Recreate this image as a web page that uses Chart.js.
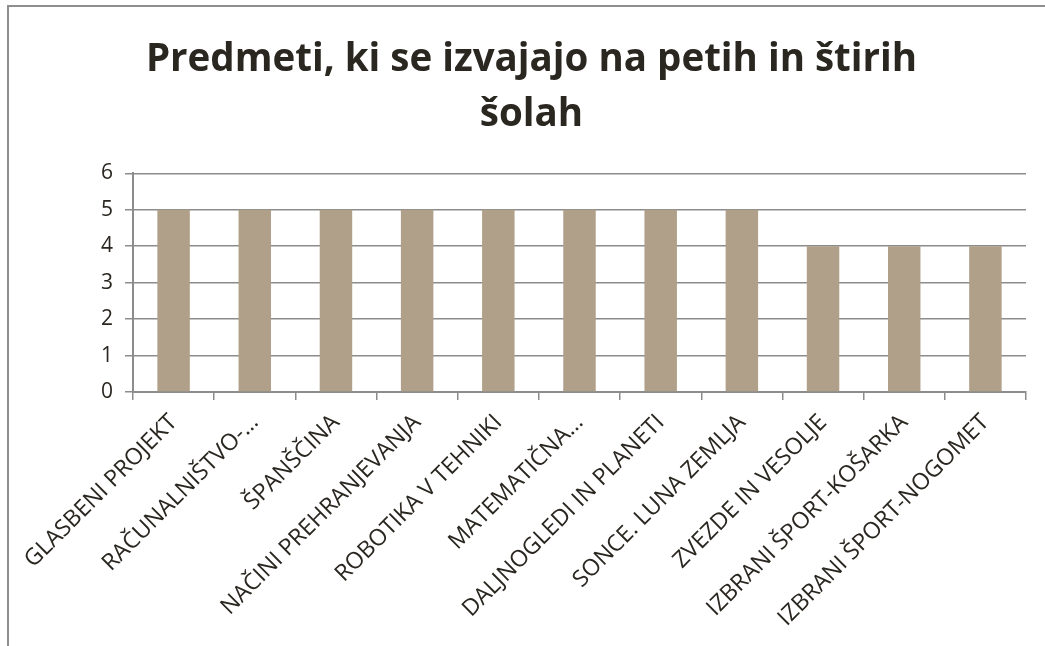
<!DOCTYPE html>
<html>
<head>
<meta charset="utf-8">
<script src="https://cdn.jsdelivr.net/npm/chart.js@4/dist/chart.umd.min.js"></script>
<style>
  html, body { margin: 0; padding: 0; background: #fff; overflow: hidden; }
  .frame { position: absolute; left: 7px; top: 5px; width: 1100px; height: 700px; border: 2px solid #8e8e8e; }
  #chart { position: absolute; left: 0; top: 0; }
</style>
</head>
<body>
<div class="frame"></div>
<canvas id="chart" width="1045" height="646"></canvas>
<script>
// kategorije (predmeti)
const predmeti = [
    'GLASBENI PROJEKT',
    'RAČUNALNIŠTVO-…',
    'ŠPANŠČINA',
    'NAČINI PREHRANJEVANJA',
    'ROBOTIKA V TEHNIKI',
    'MATEMATIČNA…',
    'DALJNOGLEDI IN PLANETI',
    'SONCE. LUNA ZEMLJA',
    'ZVEZDE IN VESOLJE',
    'IZBRANI ŠPORT-KOŠARKA',
    'IZBRANI ŠPORT-NOGOMET'
];
// število šol
const steviloSol = [5, 5, 5, 5, 5, 5, 5, 5, 4, 4, 4];
const yTicks = [0, 1, 2, 3, 4, 5, 6];

const txt = '#2a2620';
const gridCol = '#8c8c8c';

new Chart(document.getElementById('chart').getContext('2d'), {
    type: 'bar',
    data: {
        labels: predmeti,
        datasets: [{
            label: 'Število šol',
            data: steviloSol,
            backgroundColor: '#b0a089',
            borderWidth: 0,
            barPercentage: 0.4,
            categoryPercentage: 1.0
        }]
    },
    options: {
        responsive: false,
        animation: false,
        // levi odmik zamakne naslov proti desni kot v originalu
        layout: { padding: { left: 37, right: 19, top: 0, bottom: 0 } },
        scales: {
            x: {
                grid: { display: true, drawOnChartArea: false, color: gridCol, lineWidth: 1.5, tickLength: 8, offset: true },
                border: { color: gridCol, width: 2 },
                ticks: {
                    color: txt, autoSkip: false, minRotation: 45, maxRotation: 45,
                    font: { family: 'Open Sans', size: 23 }, padding: 9
                },
                afterFit: s => { s.height = 254; }
            },
            y: {
                min: 0, max: 6,
                afterBuildTicks: s => { s.ticks = yTicks.map(v => ({ value: v })); },
                grid: { color: gridCol, lineWidth: 1.5, tickLength: 8 },
                border: { color: gridCol, width: 2 },
                ticks: { color: txt, padding: 12, font: { family: 'Open Sans', size: 21 } },
                afterFit: s => { s.width = 96; }
            }
        },
        plugins: {
            legend: { display: false },
            tooltip: { enabled: false },
            title: {
                display: true,
                text: ['Predmeti, ki se izvajajo na petih in štirih', 'šolah'],
                color: txt,
                font: { family: 'Open Sans', size: 38.5, weight: 'bold', lineHeight: 1.42 },
                padding: { top: 33, bottom: 31 }
            }
        }
    }
});
</script>
</body>
</html>
